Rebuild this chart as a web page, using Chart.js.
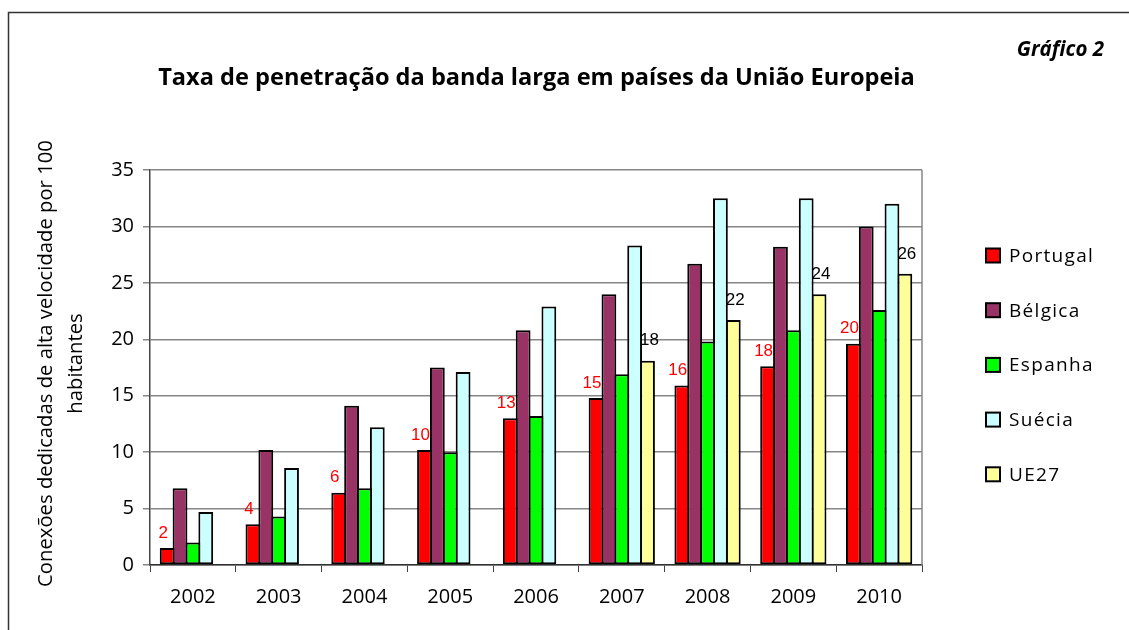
<!DOCTYPE html>
<html><head><meta charset="utf-8">
<script src="https://cdn.jsdelivr.net/npm/chart.js@4"></script>
<style>
html,body{margin:0;padding:0;background:#fff;overflow:hidden}
canvas{display:block}
</style></head>
<body>
<canvas id="c" width="1129" height="630"></canvas>
<script>
const categories = ['2002','2003','2004','2005','2006','2007','2008','2009','2010'];
const seriesNames = ['Portugal','Bélgica','Espanha','Suécia','UE27'];
const portugal = [1.5, 3.6, 6.4, 10.2, 13.0, 14.8, 15.9, 17.6, 19.6];
const belgica  = [6.8, 10.2, 14.1, 17.5, 20.8, 24.0, 26.7, 28.2, 30.0];
const espanha  = [2.0, 4.3, 6.8, 10.0, 13.2, 16.9, 19.8, 20.8, 22.6];
const suecia   = [4.7, 8.6, 12.2, 17.1, 22.9, 28.3, 32.5, 32.5, 32.0];
const ue27     = [null, null, null, null, null, 18.1, 21.7, 24.0, 25.8];
const yTicks   = [0, 5, 10, 15, 20, 25, 30, 35];
const seriesColors = ['#FF0000','#993366','#00FF00','#CCFFFF','#FFFF99'];
const titleText = 'Taxa de penetração da banda larga em países da União Europeia';
const chartNumber = 'Gráfico 2';
const yTitleLines = ['Conexões dedicadas de alta velocidade por 100', 'habitantes'];

const seriesData = [portugal, belgica, espanha, suecia, ue27];

function fitFont(ctx, text, weightStyle, family, target, base) {
  ctx.font = weightStyle + ' ' + base + 'px ' + family;
  const w = ctx.measureText(text).width;
  return base * target / w;
}

const decorPlugin = {
  id: 'decor',
  beforeDraw(chart) {
    const ctx = chart.ctx;
    ctx.save();
    ctx.fillStyle = '#fff';
    ctx.fillRect(0, 0, chart.width, chart.height);
    ctx.strokeStyle = '#333';
    ctx.lineWidth = 1.5;
    ctx.strokeRect(8.5, 12.5, 1300, 700);
    ctx.restore();
  },
  beforeDatasetsDraw(chart) {
    const ctx = chart.ctx, a = chart.chartArea;
    ctx.save();
    ctx.strokeStyle = '#868686';
    ctx.lineWidth = 1.5;
    ctx.beginPath();
    ctx.moveTo(a.right, a.top);
    ctx.lineTo(a.right, a.bottom);
    ctx.stroke();
    ctx.restore();
  },
  afterDatasetsDraw(chart) {
    const ctx = chart.ctx;
    ctx.save();
    ctx.font = '17px "Liberation Sans", Arial, sans-serif';
    ctx.textAlign = 'center';
    ctx.textBaseline = 'middle';
    const cfg = [{ds: 0, color: '#FF0000', dx: -4, dy: -15}, {ds: 4, color: '#000', dx: 2, dy: -20}];
    cfg.forEach(c => {
      const meta = chart.getDatasetMeta(c.ds);
      meta.data.forEach((el, i) => {
        const v = chart.data.datasets[c.ds].data[i];
        if (v == null) return;
        ctx.fillStyle = c.color;
        ctx.fillText(String(Math.round(v)), el.x + c.dx, el.y + c.dy);
      });
    });
    ctx.restore();
  },
  afterDraw(chart) {
    const ctx = chart.ctx, a = chart.chartArea;
    ctx.save();
    // Title
    const tf = fitFont(ctx, titleText, 'bold', '"Open Sans"', 757, 20);
    ctx.font = 'bold ' + tf + 'px "Open Sans"';
    ctx.fillStyle = '#000';
    ctx.textAlign = 'center';
    ctx.textBaseline = 'alphabetic';
    ctx.fillText(titleText, 536.5, 85);
    // Chart number
    ctx.font = 'italic bold 20.5px "Open Sans"';
    ctx.textAlign = 'right';
    ctx.fillText(chartNumber, 1104, 56);
    // Y title
    const yf = fitFont(ctx, yTitleLines[0], 'normal', '"Open Sans"', 447, 18);
    ctx.font = yf + 'px "Open Sans"';
    ctx.textAlign = 'center';
    ctx.textBaseline = 'middle';
    const cy = (a.top + a.bottom) / 2 - 4;
    [46, 76].forEach((x, i) => {
      ctx.save();
      ctx.translate(x, cy);
      ctx.rotate(-Math.PI / 2);
      ctx.fillText(yTitleLines[i], 0, 0);
      ctx.restore();
    });
    // Legend
    ctx.textAlign = 'left';
    ctx.textBaseline = 'middle';
    ctx.font = '19px "Open Sans"';
    ctx.letterSpacing = '1.3px';
    seriesNames.forEach((name, i) => {
      const yc = 255.5 + i * 54.7;
      ctx.fillStyle = seriesColors[i];
      ctx.fillRect(986, yc - 7, 14, 14);
      ctx.strokeStyle = '#000';
      ctx.lineWidth = 2;
      ctx.strokeRect(986, yc - 7, 14, 14);
      ctx.fillStyle = '#000';
      ctx.fillText(name, 1009, yc + 1);
    });
    ctx.restore();
  }
};

new Chart(document.getElementById('c'), {
  type: 'bar',
  data: {
    labels: categories,
    datasets: seriesNames.map((n, i) => ({
      label: n,
      data: seriesData[i],
      backgroundColor: seriesColors[i],
      borderColor: '#000',
      borderWidth: 2,
      borderSkipped: false,
      barPercentage: 1.15,
      categoryPercentage: 0.75
    }))
  },
  options: {
    responsive: false,
    animation: false,
    devicePixelRatio: 1,
    layout: {padding: {left: 90, right: 207, top: 170, bottom: 0}},
    plugins: {legend: {display: false}, title: {display: false}, tooltip: {enabled: false}},
    scales: {
      x: {
        offset: true,
        grid: {display: true, drawOnChartArea: false, drawTicks: true, tickLength: 7, color: '#444', lineWidth: 1},
        border: {display: true, color: '#333', width: 1.5},
        ticks: {font: {family: '"Open Sans"', size: 20}, color: '#000', padding: 13, maxRotation: 0},
        afterFit: s => { s.height = 65; }
      },
      y: {
        min: 0, max: 35,
        afterBuildTicks: s => { s.ticks = yTicks.map(v => ({value: v})); },
        grid: {color: '#868686', lineWidth: 1.5, tickLength: 7, drawTicks: true},
        border: {display: true, color: '#444', width: 1.5},
        ticks: {font: {family: '"Open Sans"', size: 20}, color: '#000', padding: 9},
        afterFit: s => { s.width = 60; }
      }
    }
  },
  plugins: [decorPlugin]
});
</script>
</body></html>
